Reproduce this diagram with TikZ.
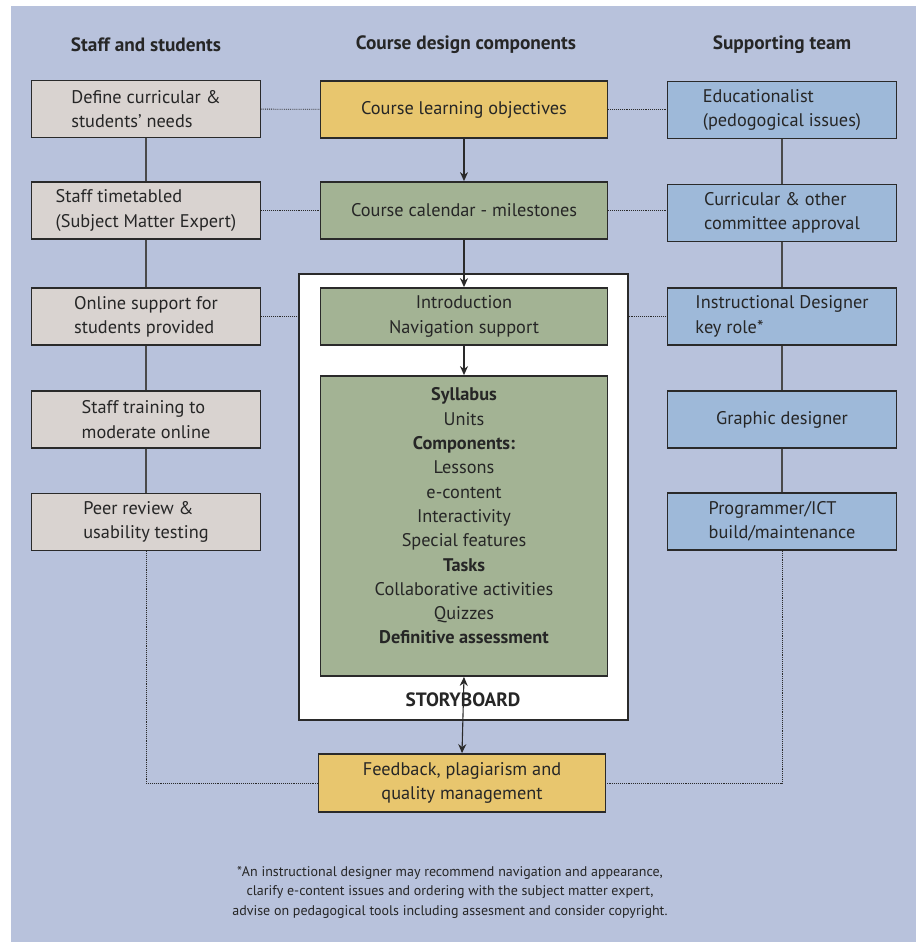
\documentclass[tikz,border=0pt]{standalone}
\usepackage{fontspec}
\setmainfont{PT Sans}
\usetikzlibrary{arrows.meta}
\definecolor{bgblue}{RGB}{184,194,220}
\definecolor{staffgray}{RGB}{217,211,208}
\definecolor{objyellow}{RGB}{232,198,110}
\definecolor{compgreen}{RGB}{163,179,148}
\definecolor{teamblue}{RGB}{158,185,217}
\definecolor{edgegray}{RGB}{42,42,42}
\definecolor{ink}{RGB}{38,38,38}

\begin{document}
\begin{tikzpicture}[x=1pt, y=-1pt,
	every node/.style={font=\fontsize{18.3}{24.3}\selectfont, text=ink},
	box/.style={draw=edgegray, line width=1.8pt, minimum height=57pt, inner sep=0pt},
	sidebox/.style={box, minimum width=229pt, align=left},
	midbox/.style={box, minimum width=287pt, align=center},
	head/.style={font=\fontsize{19.3}{22}\selectfont\bfseries},
	link/.style={edgegray!85, line width=1.1pt},
	dots/.style={edgegray, line width=0.9pt, densely dotted},
	flow/.style={edgegray, line width=1.1pt, -{Stealth[length=9pt, width=8pt]}}]
	\fill[white] (0,0) rectangle (920,942);
	\fill[bgblue] (11,6) rectangle (916,942);
	\node[head] at (146,45) {Staff and students};
	\node[head] at (466,45) {Course design components};
	\node[head] at (782,45) {Supporting team};
	\foreach \i/\y/\t in {1/109/{Define curricular \&\\students' needs}, 2/210.5/{Staff timetabled\\(Subject Matter Expert)}, 3/316.5/{Online support for\\students provided}, 4/419.5/{Staff training to\\moderate online}, 5/522/{Peer review \&\\usability testing}} {
		\node[sidebox, fill=staffgray] (l\i) at (146,\y) {\t};
	}
	\foreach \i/\y/\t in {1/110/{Educationalist\\(pedogogical issues)}, 2/213/{Curricular \& other\\committee approval}, 3/316.5/{Instructional Designer\\key role*}, 4/419.5/{Graphic designer}, 5/521.5/{Programmer/ICT\\build/maintenance}} {
		\node[sidebox, fill=teamblue] (r\i) at (782,\y) {\t};
	}
	\foreach \a/\b in {1/2, 2/3, 3/4, 4/5} {
		\draw[link] (l\a) -- (l\b);
		\draw[link] (r\a) -- (r\b);
	}
	\node[draw=edgegray, line width=1.2pt, fill=white, minimum width=329pt, minimum height=446pt, inner sep=0pt] (sb) at (463.5,497) {};
	\node[midbox, fill=objyellow] (obj) at (464,109.5) {Course learning objectives};
	\node[midbox, fill=compgreen] (cal) at (464,210.5) {Course calendar - milestones};
	\node[midbox, fill=compgreen] (intro) at (464,316.5) {Introduction\\Navigation support};
	\node[midbox, fill=compgreen, minimum height=300pt] (syl) at (464,526) {};
	\node[align=center] at (464,516) {\textbf{Syllabus}\\Units\\\textbf{Components:}\\Lessons\\e-content\\Interactivity\\Special features\\\textbf{Tasks}\\Collaborative activities\\Quizzes\\\textbf{Definitive assessment}};
	\node[head] at (463,700) {STORYBOARD};
	\node[midbox, fill=objyellow, minimum height=58pt] (fb) at (462,783) {Feedback, plagiarism and\\quality management};
	\draw[flow] (obj) -- (cal);
	\draw[flow] (cal) -- (intro);
	\draw[flow] (intro) -- (syl);
	\draw[flow, {Stealth[length=9pt, width=8pt]}-{Stealth[length=9pt, width=8pt]}] (syl.south) -- (fb.north);
	\draw[dots] (l1) -- (obj);
	\draw[dots] (obj) -- (r1.west |- obj);
	\draw[dots] (l2.east |- cal) -- (cal);
	\draw[dots] (cal) -- (r2.west |- cal);
	\draw[dots] (l3) -- (l3 -| sb.west);
	\draw[dots] (sb.east |- r3) -- (r3);
	\draw[dots] (l5) |- (fb);
	\draw[dots] (r5) |- (fb);
	\node[align=center, font=\fontsize{14}{19.5}\selectfont] (note) at (450,892) {*An instructional designer may recommend navigation and appearance,\\clarify e-content issues and ordering with the subject matter expert,\\advise on pedagogical tools including assesment and consider copyright.};
\end{tikzpicture}
\end{document}
